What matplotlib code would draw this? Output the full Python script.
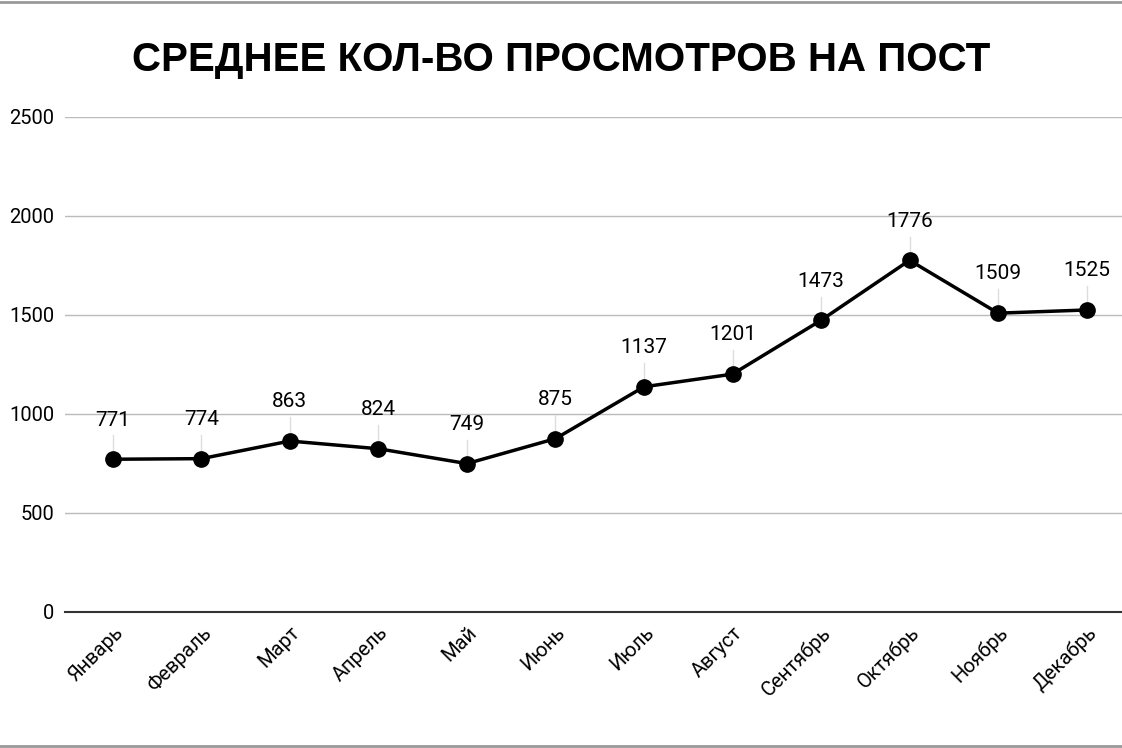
import matplotlib
matplotlib.use("Agg")
import matplotlib.pyplot as plt

months = ["Январь","Февраль","Март","Апрель","Май","Июнь","Июль","Август","Сентябрь","Октябрь","Ноябрь","Декабрь"]
views = [771,774,863,824,749,875,1137,1201,1473,1776,1509,1525]
yticks = [0,500,1000,1500,2000,2500]

fig = plt.figure(figsize=(11.22,7.48), dpi=100)
ax = fig.add_axes([0.058,0.182,0.942,0.6616])
x = list(range(len(months)))
ax.plot(x, views, color="black", lw=2.5, marker="o", ms=11, zorder=3)
for xi, v in zip(x, views):
    ax.plot([xi, xi], [v, v+120], color="#dddddd", lw=1, zorder=1)
    ax.text(xi, v+150, str(v), ha="center", va="bottom", fontsize=15, family="Roboto")
ax.set_xlim(-0.54, 11.4)
ax.set_ylim(0, 2500)
ax.set_yticks(yticks)
ax.set_yticklabels([str(t) for t in yticks], fontsize=14.5, family="Roboto")
ax.set_xticks(x)
ax.set_xticklabels(months, rotation=45, ha="right", rotation_mode="anchor", fontsize=14.5, family="Roboto")
ax.tick_params(length=0, pad=8)
ax.grid(axis="y", color="#bbbbbb", lw=1)
ax.set_axisbelow(True)
for s in ["top","right","left"]:
    ax.spines[s].set_visible(False)
ax.spines["bottom"].set_color("#333333")
ax.spines["bottom"].set_linewidth(1.5)
fig.text(0.5, 0.92, "СРЕДНЕЕ КОЛ-ВО ПРОСМОТРОВ НА ПОСТ", ha="center", va="center",
         fontsize=29, fontweight="bold", family="Liberation Sans")
fig.add_artist(plt.Line2D([0,1],[0.997,0.997], color="#999999", lw=2, transform=fig.transFigure))
fig.add_artist(plt.Line2D([0,1],[0.003,0.003], color="#999999", lw=2, transform=fig.transFigure))
fig.savefig("out.png", dpi=100)
